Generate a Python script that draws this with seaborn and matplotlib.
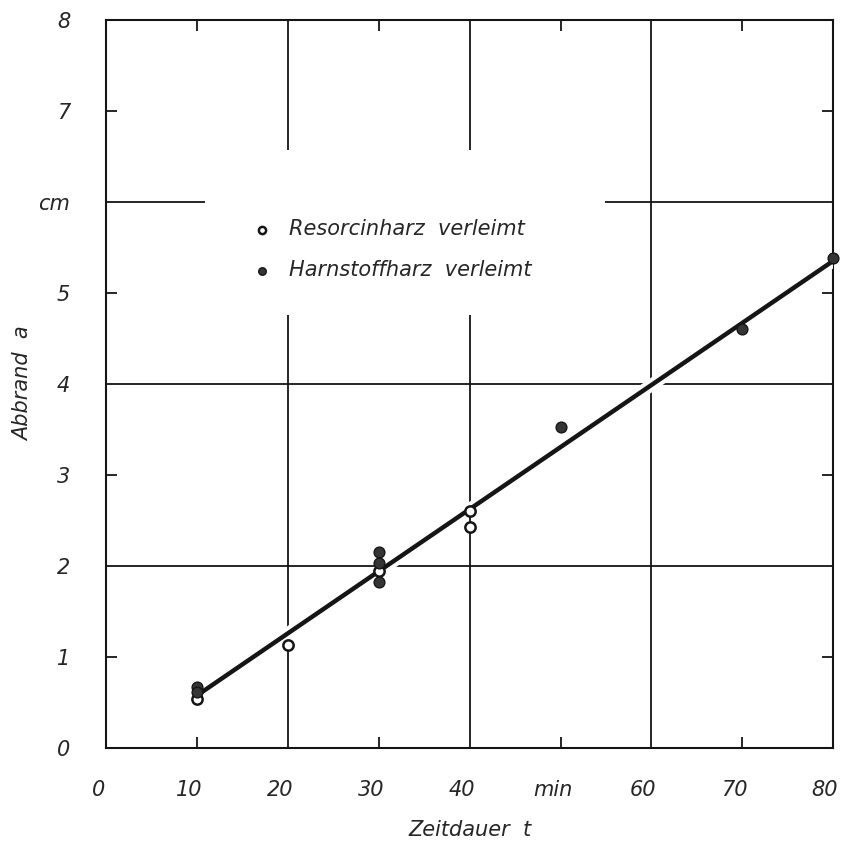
import matplotlib
matplotlib.use("Agg")
import matplotlib.pyplot as plt
import matplotlib.patheffects as pe
from matplotlib.patches import Rectangle
from matplotlib.transforms import ScaledTranslation
import seaborn as sns
import pandas as pd

# ---- data ----
res_t = [10, 20, 30, 40, 40]
res_a = [0.54, 1.13, 1.95, 2.60, 2.43]
harn_t = [10, 10, 30, 30, 30, 50, 70, 80]
harn_a = [0.67, 0.62, 2.15, 2.03, 1.82, 3.53, 4.60, 5.38]
fit_t = [10, 80]
fit_a = [0.58, 5.35]

x_ticks = [0, 10, 20, 30, 40, 50, 60, 70, 80]
x_labels = ["0", "10", "20", "30", "40", "min", "60", "70", "80"]
y_ticks = [0, 1, 2, 3, 4, 5, 6, 7, 8]
y_labels = ["0", "1", "2", "3", "4", "5", "cm", "7", "8"]
x_grid = [20, 40, 60]
y_grid = [2, 4, 6]
x_minor = [10, 30, 50, 70]
y_minor = [1, 3, 5, 7]

res_label = "Resorcinharz  verleimt"
harn_label = "Harnstoffharz  verleimt"
x_title = "Zeitdauer  t"
y_title = "Abbrand  a"

sns.set_theme(style="white")
plt.rcParams['font.family'] = ['DejaVu Sans']

df_res = pd.DataFrame({"t": res_t, "a": res_a})
df_harn = pd.DataFrame({"t": harn_t, "a": harn_a})
df_fit = pd.DataFrame({"t": fit_t, "a": fit_a})

fig = plt.figure(figsize=(8.44, 8.55), dpi=100)
ax = fig.add_axes([0.126, 0.125, 0.861, 0.852])

ink = "#151515"

for g in x_grid:
    ax.axvline(g, color=ink, lw=1.3, zorder=1)
for g in y_grid:
    ax.axhline(g, color=ink, lw=1.3, zorder=1)

# white area behind legend (interrupts grid as in original)
ax.add_patch(Rectangle((0.136, 0.595), 0.55, 0.226, transform=ax.transAxes,
                       facecolor="white", edgecolor="none", zorder=2))

sns.lineplot(data=df_fit, x="t", y="a", ax=ax, color=ink, lw=3.2, zorder=3,
             path_effects=[pe.Stroke(linewidth=9, foreground="white"), pe.Normal()])

sns.scatterplot(data=df_res, x="t", y="a", ax=ax, s=55, facecolor="white",
                edgecolor=ink, linewidth=1.8, zorder=4, label=res_label,
                clip_on=False)
sns.scatterplot(data=df_harn, x="t", y="a", ax=ax, s=60, color="#353535",
                edgecolor=ink, linewidth=1.0, zorder=4, label=harn_label,
                clip_on=False)

ax.set_xlim(0, 80)
ax.set_ylim(0, 8)
ax.xaxis.remove_overlapping_locs = False
ax.yaxis.remove_overlapping_locs = False
ax.set_xticks(x_ticks)
ax.set_xticklabels(x_labels, fontsize=15, style="italic")
ax.set_yticks(y_ticks)
ax.set_yticklabels(y_labels, fontsize=15, style="italic")
ax.tick_params(axis="both", which="major", length=0)
ax.tick_params(axis="x", which="major", pad=23)
ax.tick_params(axis="y", which="major", pad=26)
ax.set_xticks(x_minor, minor=True)
ax.set_yticks(y_minor, minor=True)
ax.tick_params(which="minor", direction="in", length=8, width=1.3, color=ink,
               top=True, right=True, bottom=True, left=True)

shift = ScaledTranslation(-0.08, 0, fig.dpi_scale_trans)
for lbl in ax.get_xticklabels():
    lbl.set_transform(lbl.get_transform() + shift)

for s in ax.spines.values():
    s.set_color(ink)
    s.set_linewidth(1.5)

ax.set_xlabel(x_title, fontsize=15, style="italic", labelpad=14)
ax.set_ylabel(y_title, fontsize=15, style="italic", labelpad=4)

leg = ax.legend(loc="upper left", bbox_to_anchor=(0.185, 0.74), frameon=False,
                prop={"style": "italic", "size": 15},
                handlelength=1.0, handletextpad=0.8, labelspacing=1.0,
                borderpad=0, markerscale=0.7)

fig.savefig("out.png", dpi=100)
